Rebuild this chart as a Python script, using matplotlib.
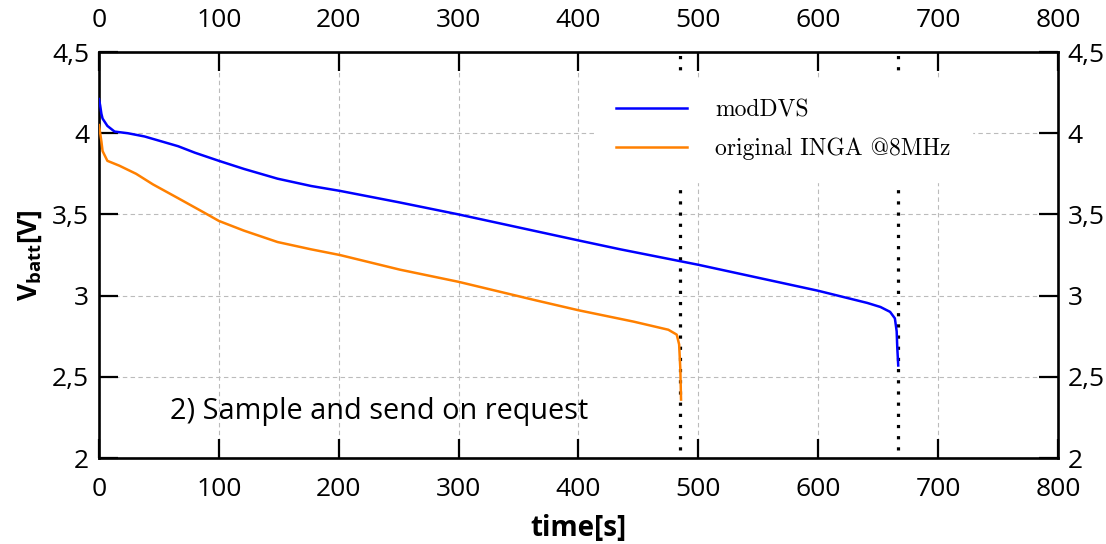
import matplotlib
matplotlib.use('Agg')
import matplotlib.pyplot as plt

# modDVS (blue)
t_dvs = [0, 1, 2, 3, 7, 13, 24, 38, 52, 66, 80, 100, 121, 149, 177, 201, 250, 300,
         350, 400, 435, 500, 550, 600, 641, 652, 660, 664, 665.5, 666, 666.8]
v_dvs = [4.21, 4.17, 4.12, 4.09, 4.045, 4.01, 4.00, 3.98, 3.95, 3.92, 3.88, 3.83, 3.78,
         3.72, 3.675, 3.645, 3.575, 3.50, 3.42, 3.34, 3.285, 3.19, 3.11, 3.03, 2.955,
         2.93, 2.90, 2.86, 2.78, 2.68, 2.57]

# original INGA @8MHz (orange)
t_inga = [0, 1, 2, 3, 7, 17, 31, 45, 66, 88, 100, 121, 149, 177, 201, 251, 300, 365,
          400, 446, 475, 482, 484, 485, 485.6]
v_inga = [4.05, 4.0, 3.95, 3.89, 3.83, 3.80, 3.75, 3.685, 3.60, 3.51, 3.46, 3.40, 3.33,
          3.285, 3.25, 3.16, 3.085, 2.97, 2.91, 2.84, 2.79, 2.76, 2.70, 2.55, 2.36]

t_end = [485, 667]  # end of battery (dotted markers)

xticks = [0, 100, 200, 300, 400, 500, 600, 700, 800]
yticks = [2, 2.5, 3, 3.5, 4, 4.5]
ylabels = ['2', '2,5', '3', '3,5', '4', '4,5']

plt.rcParams['font.family'] = ['Open Sans', 'DejaVu Sans']
plt.rcParams['mathtext.fontset'] = 'custom'
plt.rcParams['mathtext.bf'] = 'Open Sans:bold'
plt.rcParams['mathtext.rm'] = 'Open Sans'

fig = plt.figure(figsize=(11.06, 5.44), dpi=100)
ax = fig.add_axes([0.0895, 0.158, 0.867, 0.7464])

ax.plot(t_dvs, v_dvs, color='#0000ff', linewidth=1.8, label='modDVS', zorder=3)
ax.plot(t_inga, v_inga, color='#ff8000', linewidth=1.8, label='original INGA @8MHz', zorder=3)

for t in t_end:
    ax.axvline(t, ymin=0.02, ymax=1, color='black', linestyle=(0, (1, 2.5)), linewidth=2.3, zorder=2)

ax.text(59, 2.24, '2) Sample and send on request', fontsize=20.8)

ax.set_xlim(0, 800)
ax.set_ylim(2, 4.5)
ax.set_xticks(xticks)
ax.set_yticks(yticks)
ax.set_yticklabels(ylabels)
ax.tick_params(direction='in', length=14, width=1.6, labelsize=19,
               top=True, right=True, labeltop=True, labelright=True)
ax.tick_params(axis='x', pad=14)
ax.tick_params(axis='y', pad=7)
for s in ax.spines.values():
    s.set_linewidth(1.9)

ax.grid(True, linestyle=(0, (4, 3)), linewidth=0.8, color='#bbbbbb', zorder=0)
ax.set_axisbelow(True)

ax.set_xlabel('time[s]', fontsize=20, fontweight='bold', labelpad=8)
ax.set_ylabel(r'$\mathbf{V_{batt}[V]}$', fontsize=19, labelpad=6)

leg = ax.legend(loc='upper left', bbox_to_anchor=(0.505, 0.965), frameon=True,
                fancybox=False, framealpha=1, edgecolor='white', facecolor='white',
                prop={'family': 'cmr10', 'size': 17}, handlelength=3.0,
                handletextpad=1.2, labelspacing=0.7, borderpad=0.9)
leg.set_zorder(5)

fig.savefig('out.png', dpi=100)
